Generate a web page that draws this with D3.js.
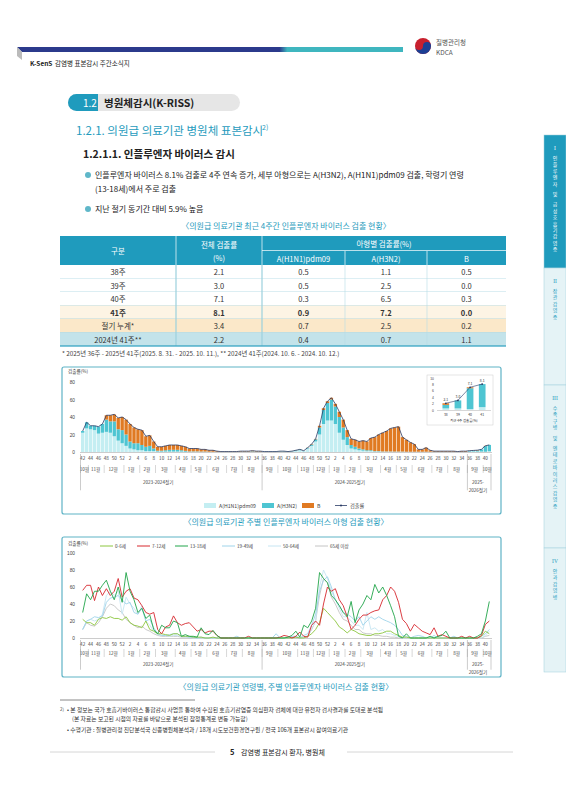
<!DOCTYPE html>
<html><head><meta charset="utf-8">
<script src="https://cdn.jsdelivr.net/npm/d3@7"></script>
<style>body{margin:0;background:#fff}svg{display:block;font-family:"Noto Sans CJK KR","Noto Sans",sans-serif}</style>
</head><body><svg id="pg" width="566" height="800"></svg>
<script>
// ---- data ----
var tableHead = ["구분", "전체 검출률", "A(H1N1)pdm09", "A(H3N2)", "B"];
var tableRows = [
  ["38주", "2.1", "0.5", "1.1", "0.5"],
  ["39주", "3.0", "0.5", "2.5", "0.0"],
  ["40주", "7.1", "0.3", "6.5", "0.3"],
  ["41주", "8.1", "0.9", "7.2", "0.0"],
  ["절기 누계*", "3.4", "0.7", "2.5", "0.2"],
  ["2024년 41주**", "2.2", "0.4", "0.7", "1.1"]
];
var seasons = ["2023-2024절기", "2024-2025절기", "2025-\n2026절기"];
var seasonWeeks = [
  [42,43,44,45,46,47,48,49,50,51,52,1,2,3,4,5,6,7,8,9,10,11,12,13,14,15,16,17,18,19,20,21,22,23,24,25,26,27,28,29,30,31,32,33,34,35],
  [36,37,38,39,40,41,42,43,44,45,46,47,48,49,50,51,52,1,2,3,4,5,6,7,8,9,10,11,12,13,14,15,16,17,18,19,20,21,22,23,24,25,26,27,28,29,30,31,32,33,34,35],
  [36,37,38,39,40,41]
];
var monthNames = [
  ["10월","11월","12월","1월","2월","3월","4월","5월","6월","7월","8월"],
  ["9월","10월","11월","12월","1월","2월","3월","4월","5월","6월","7월","8월"],
  ["9월","10월"]
];
var monthWeekCounts = [
  [2,4,5,4,4,5,4,4,5,4,5],
  [4,5,4,4,4,4,5,4,4,5,4,5],
  [4,2]
];
var h1n1 = [22,27,26,25,21,22,23,22,18,13,10,
  7,4,3,2,2,1,1,1,0.5,0.5,0.5,0.5,0.5,0.5,0.5,0.3,0.2,0.2,0.2,0.2,0.2,0.1,0.1,0.1,0.1,0.1,0.1,0.1,0.1,0.2,0.2,0.2,0.3,0.2,0.2,
  0.2,0.2,0.2,0.2,0.4,0.4,0.2,0.5,1,2,1,4,7,12,20,32,36,
  36,32,22,14,8,4,3,2,1.5,1,1,0.5,0.5,0.3,0.3,0.3,0.2,0.2,0.2,0.1,0.1,0.1,0.1,0.1,0.1,0.1,0.1,0.1,0.1,0.1,0.1,0.1,0.1,0.1,0.1,
  0.5,0.6,0.5,0.5,0.3,0.9];
var h3n2 = [2,7,4,5,8,10,14,13,17,13,15,
  13,8,7,8,6,5,6,3,1,1,1.5,2,2,2,1.5,1,0.5,0.5,0.5,0.3,0.3,0.2,0.2,0.2,0.1,0.1,0.1,0.1,0.1,0.3,0.3,0.3,0.5,0.3,0.3,
  0.2,0.2,0.2,0.2,0.4,0.4,0.2,0.4,0.8,0.8,0.4,0.8,1.5,2.5,8,16,20,
  24,20,18,14,9,4,3,2,1.5,1,1,0.5,0.5,0.3,0.3,0.3,0.3,0.3,0.3,0.2,0.2,0.2,0.2,0.2,0.2,0.2,0.2,0.2,0.2,0.2,0.2,0.2,0.1,0.2,0.2,
  0.8,1.0,1.1,2.5,6.5,7.2];
var fluB = [0,0,0,0,0,0,5,7,8,13,15,
  17,20,18,16,17,12,12,8,4.5,4.5,5,5.5,5.5,5.5,5,4.7,3.3,3.3,3.3,2.5,2.5,1.7,1.7,0.7,0.3,0.3,0.3,0.3,0.3,0.5,0.5,0.5,0.7,0.5,0.5,
  0.1,0.1,0.1,0.1,0.2,0.2,0.1,0.1,0.2,0.2,0.1,0.2,0.5,0.5,2,2,2,
  2,3,6,9,8,7,8,8,10,10,14,16,19,21.4,23.4,26.4,27.5,28.5,16.5,13.7,10.7,8.7,2.7,2.7,4.7,1.7,0.7,0.7,0.7,0.7,0.7,0.7,0.3,0.7,0.7,
  0.2,0.2,0.5,0,0.3,0];
var insetWeeks = ["38","39","40","41"];
var insetH1 = [0.5,0.5,0.3,0.9], insetH3 = [1.1,2.5,6.5,7.2], insetB = [0.5,0.0,0.3,0.0];
var insetTotal = [2.1,3.0,7.1,8.1];

var ageNames = ["0-6세","7-12세","13-18세","19-49세","50-64세","65세 이상"];
var ageColors = ["#8cc63e","#d7282f","#21a54a","#9fd4ea","#c6e5f2","#c4c4c4"];
var age0 = [22,18,18,15,22,24,23,25,23,23,21, 25,18,15,14,12,20,10,8,5,5,4,3,5,5,2,2,2,1,1,1,0,0,1,0,0,0,0,0,0,0,0,0,0,0,0,
  0,0,0,0,0,0,0,0,1,0,0,2,5,10,18,35,30, 25,20,13,10,6,10,8,5,4,3,3,5,5,6,8,8,5,3,1,1,0,0,0,0,0,0,0,0,0,0,0,0,0,0,0, 0,0,0,2,8,5];
var age7 = [56,62,62,44,60,50,58,50,55,70,48, 55,58,47,45,38,30,28,30,10,5,13,15,26,18,15,17,18,13,8,10,6,8,8,3,0,0,0,0,0,0,0,2,0,0,0,
  0,0,0,0,1,3,2,0,2,7,2,1,15,20,15,40,60, 55,58,45,38,25,10,15,22,27,27,30,32,33,45,50,60,55,42,22,17,8,16,12,8,6,4,12,2,4,2,0,0,0,2,0, 2,0,0,3,16,20];
var age13 = [30,52,45,55,55,62,68,55,45,60,42, 77,55,45,30,35,23,27,10,5,15,12,12,20,18,2,4,2,2,1,12,5,4,9,3,0,0,0,0,0,0,0,0,0,0,0,
  0,0,0,0,0,0,1,3,8,1,15,12,20,35,77,70,65, 50,45,38,30,25,43,18,33,40,50,45,63,53,60,50,38,25,2,0,5,0,0,0,0,0,2,0,2,3,8,0,0,0,0,0, 0,0,2,5,20,43];
var age19 = [10,20,22,25,24,26,42,47,48,50,45, 40,42,30,28,35,20,22,12,5,3,3,4,5,5,2,2,1,1,0,1,0,0,0,0,0,0,0,0,2,0,0,0,0,0,0,
  0,0,0,5,0,0,0,2,2,0,3,5,15,28,55,68,72, 60,45,38,30,28,25,20,25,15,20,25,22,25,22,20,18,15,10,3,2,0,2,3,2,0,0,3,0,0,0,0,2,0,0,0, 0,0,0,2,5,10];
var age50 = [10,20,22,20,22,28,50,55,50,55,28, 48,40,35,28,38,20,15,8,4,3,3,2,3,3,2,1,1,0,0,0,0,0,0,0,0,0,0,0,0,0,0,0,0,0,0,
  0,0,0,0,0,0,0,0,2,0,0,3,10,20,60,80,70, 55,45,35,25,25,20,15,15,10,30,10,12,8,10,5,5,3,2,0,0,0,0,0,0,0,0,0,0,0,0,0,0,0,0,0, 0,0,0,0,3,8];
var age65 = [10,18,15,14,18,25,35,40,38,33,30, 22,18,15,12,14,10,8,5,3,2,2,2,2,2,1,1,1,0,0,0,0,0,0,0,0,0,0,0,0,0,0,0,0,0,0,
  0,0,0,0,0,0,0,0,0,0,1,2,10,20,50,70,65, 48,40,30,22,20,15,10,10,6,5,5,3,3,2,2,1,1,0,0,0,0,0,0,0,0,0,0,0,0,0,0,0,0,0,0, 0,0,0,0,2,3];
var ageSeries = [age0, age7, age13, age19, age50, age65];

// ---- page ----
var svg = d3.select("#pg");
var TEAL = "#1f9bbd", DARK = "#222";
function txt(x, y, s, size, opt) {
  opt = opt || {};
  return svg.append("text").attr("x", x).attr("y", y).text(s)
    .attr("font-size", size).attr("fill", opt.fill || DARK)
    .attr("font-weight", opt.bold ? "bold" : null)
    .attr("text-anchor", opt.anchor || "start");
}

// header
var grad = svg.append("defs").append("linearGradient").attr("id", "hg");
grad.append("stop").attr("offset", "0%").attr("stop-color", "#2b3a8c");
grad.append("stop").attr("offset", "68%").attr("stop-color", "#2b3a8c");
grad.append("stop").attr("offset", "70%").attr("stop-color", "#3fb6bf");
grad.append("stop").attr("offset", "100%").attr("stop-color", "#3fb6bf");
svg.append("path").attr("d", "M17,47 L403,47 L403,52 L22,52 Z").attr("fill", "url(#hg)");
svg.append("path").attr("d", "M17,47 L22,52 L22,60 L17,56 Z").attr("fill", "#bbb");
txt(30, 66, "K-SenS", 6.5, {bold: true});
txt(55, 66, "감염병 표본감시 주간소식지", 6.5);
svg.append("circle").attr("cx", 423).attr("cy", 46).attr("r", 8).attr("fill", "#c8202e");
svg.append("path").attr("d", "M415,46 A8,8 0 0,0 431,46 A4,4 0 0,0 423,46 A4,4 0 0,1 415,46 Z").attr("fill", "#1c3f94");
txt(436, 45, "질병관리청", 6.5, {fill: "#555"});
txt(436, 55, "KDCA", 6.5, {fill: "#555"});

// section titles
svg.append("rect").attr("x", 68).attr("y", 94).attr("width", 172).attr("height", 17).attr("rx", 8.5).attr("fill", "#e6e6e6");
svg.append("path").attr("d", "M76.5,94 L98,94 L98,111 L76.5,111 A8.5,8.5 0 0,1 76.5,94 Z").attr("fill", TEAL);
txt(83, 106.5, "1.2", 10, {fill: "#fff"});
txt(104, 107, "병원체감시(K-RISS)", 10.5, {bold: true});
txt(76, 135, "1.2.1. 의원급 의료기관 병원체 표본감시", 11.5, {fill: TEAL});
txt(262, 130, "2)", 7, {fill: TEAL});
txt(83, 158, "1.2.1.1. 인플루엔자 바이러스 감시", 10.5, {bold: true});
[[178, "인플루엔자 바이러스 8.1% 검출로 4주 연속 증가, 세부 아형으로는 A(H3N2), A(H1N1)pdm09 검출, 학령기 연령"],
 [212, "지난 절기 동기간 대비 5.9% 높음"]].forEach(function(b) {
  svg.append("circle").attr("cx", 88).attr("cy", b[0] - 3).attr("r", 3).attr("fill", "#5fb7c9");
  txt(95, b[0], b[1], 8);
});
txt(95, 192, "(13-18세)에서 주로 검출", 8);

// right tabs
var tabs = [[135, 268, "I 인플루엔자 및 급성호흡기감염증", true], [268, 385, "II 장관감염증"], [385, 548, "III 수족구병 및 엔테로바이러스감염증"], [548, 672, "IV 안과감염병"]];
tabs.forEach(function(t) {
  svg.append("rect").attr("x", 544).attr("y", t[0]).attr("width", 22).attr("height", t[1] - t[0])
    .attr("fill", t[3] ? TEAL : "#e5f3f6").attr("stroke", "#9fcfdc").attr("stroke-width", 0.5);
  var parts = t[2].split(" ");
  var y = t[0] + 15;
  svg.append("text").attr("x", 555).attr("y", y).text(parts[0]).attr("font-size", 5.5)
    .attr("font-family", "Liberation Serif").attr("text-anchor", "middle").attr("fill", t[3] ? "#fff" : TEAL);
  y += 10;
  parts.slice(1).forEach(function(word) {
    Array.from(word).forEach(function(c) {
      svg.append("text").attr("x", 555).attr("y", y).text(c)
        .attr("font-size", 5).attr("text-anchor", "middle").attr("fill", t[3] ? "#fff" : TEAL);
      y += 6.4;
    });
    y += 4;
  });
});

// table
txt(286, 229, "〈의원급 의료기관 최근 4주간 인플루엔자 바이러스 검출 현황〉", 8, {fill: TEAL, anchor: "middle"});
var colX = [60, 176, 262, 345, 427, 506];
svg.append("rect").attr("x", 60).attr("y", 236).attr("width", 446).attr("height", 29).attr("fill", TEAL);
txt(118, 254, tableHead[0], 7.5, {fill: "#fff", anchor: "middle"});
txt(219, 248, tableHead[1], 7.5, {fill: "#fff", anchor: "middle"});
txt(219, 261, "(%)", 7.5, {fill: "#fff", anchor: "middle"});
txt(384, 247, "아형별 검출률(%)", 7.5, {fill: "#fff", anchor: "middle"});
[2, 3, 4].forEach(function(c) { txt((colX[c] + colX[c + 1]) / 2, 262, tableHead[c], 7.5, {fill: "#fff", anchor: "middle"}); });
svg.append("line").attr("x1", 262).attr("x2", 506).attr("y1", 250.5).attr("y2", 250.5).attr("stroke", "#fff").attr("stroke-width", 0.7);
[176, 262].forEach(function(x) { svg.append("line").attr("x1", x).attr("x2", x).attr("y1", 236).attr("y2", 265).attr("stroke", "#fff").attr("stroke-width", 0.7); });
[345, 427].forEach(function(x) { svg.append("line").attr("x1", x).attr("x2", x).attr("y1", 251).attr("y2", 265).attr("stroke", "#fff").attr("stroke-width", 0.7); });
var rowBg = ["#fff", "#fff", "#fff", "#fdf4e4", "#fbe8c9", "#c3e3ea"];
var rowH = 13.5;
tableRows.forEach(function(r, i) {
  var y = 265 + i * rowH;
  svg.append("rect").attr("x", 60).attr("y", y).attr("width", 446).attr("height", rowH).attr("fill", rowBg[i]);
  svg.append("line").attr("x1", 60).attr("x2", 506).attr("y1", y + rowH).attr("y2", y + rowH).attr("stroke", "#8cc8d8").attr("stroke-width", 0.6);
  r.forEach(function(v, c) {
    txt((colX[c] + colX[c + 1]) / 2, y + 10, v, 7.5, {anchor: "middle", bold: i === 3, fill: "#333"});
  });
});
[176, 262].forEach(function(x) { svg.append("line").attr("x1", x).attr("x2", x).attr("y1", 265).attr("y2", 346).attr("stroke", "#9cd0dd").attr("stroke-width", 1.2); });
[345, 427].forEach(function(x) { svg.append("line").attr("x1", x).attr("x2", x).attr("y1", 265).attr("y2", 346).attr("stroke", "#b5dce6").attr("stroke-width", 0.6); });
svg.append("line").attr("x1", 60).attr("x2", 506).attr("y1", 346).attr("y2", 346).attr("stroke", TEAL).attr("stroke-width", 1);
txt(62, 356, "* 2025년 36주 - 2025년 41주(2025. 8. 31. - 2025. 10. 11.), ** 2024년 41주(2024. 10. 6. - 2024. 10. 12.)", 6.3, {fill: "#444"});

// ---- shared x-axis builder ----
var allWeeks = [].concat.apply([], seasonWeeks);
var N = allWeeks.length;
function weekAxis(x, yTop, rowGap) {
  var g = svg.append("g").attr("font-size", 4.6).attr("fill", "#444");
  var bw = x.bandwidth();
  var seasonStart = 0;
  seasonWeeks.forEach(function(sw, s) {
    sw.forEach(function(w, j) {
      var i = seasonStart + j;
      if (w % 2 === 0) g.append("text").attr("x", x(i) + bw / 2).attr("y", yTop + 6).attr("text-anchor", "middle").text(w);
    });
    var m0 = seasonStart;
    monthNames[s].forEach(function(mn, k) {
      var n = monthWeekCounts[s][k];
      g.append("text").attr("x", x(m0) + n * bw / 2).attr("y", yTop + 6 + rowGap).attr("text-anchor", "middle").text(mn);
      g.append("line").attr("x1", x(m0) - 0.5).attr("x2", x(m0) - 0.5).attr("y1", yTop + rowGap).attr("y2", yTop + rowGap + 8).attr("stroke", "#999").attr("stroke-width", 0.4);
      m0 += n;
    });
    var lines = seasons[s].split("\n");
    lines.forEach(function(l, li) {
      g.append("text").attr("x", x(seasonStart) + sw.length * bw / 2).attr("y", yTop + 6 + rowGap * 2.2 + li * 8).attr("text-anchor", "middle").text(l);
    });
    g.append("line").attr("x1", x(seasonStart) - 0.5).attr("x2", x(seasonStart) - 0.5).attr("y1", yTop).attr("y2", yTop + rowGap * 3.3).attr("stroke", "#999").attr("stroke-width", 0.5);
    seasonStart += sw.length;
  });
  g.append("line").attr("x1", x.range()[1]).attr("x2", x.range()[1]).attr("y1", yTop).attr("y2", yTop + rowGap * 3.3).attr("stroke", "#999").attr("stroke-width", 0.5);
}

// ---- chart 1 ----
svg.append("rect").attr("x", 62).attr("y", 367).attr("width", 439).attr("height", 147).attr("rx", 2).attr("fill", "#fff").attr("stroke", "#5fb3c6").attr("stroke-width", 1.2);
var x1 = d3.scaleBand().domain(d3.range(N)).range([81, 491]).paddingInner(0.15);
var y1 = d3.scaleLinear().domain([0, 80]).range([452, 382]);
txt(68, 373, "검출률(%)", 4.6, {fill: "#444"});
var ya = svg.append("g").attr("transform", "translate(78,0)").call(d3.axisLeft(y1).tickValues([0, 20, 40, 60, 80]).tickSize(0).tickPadding(3));
ya.select(".domain").remove();
ya.selectAll("text").attr("font-size", 4.8).attr("fill", "#444");
var rows1 = allWeeks.map(function(w, i) { return {i: i, h1: h1n1[i], h3: h3n2[i], b: fluB[i]}; });
var stack = d3.stack().keys(["h1", "h3", "b"])(rows1);
var subColors = ["#c4eef2", "#4ec5d2", "#e07a22"];
stack.forEach(function(layer, k) {
  svg.append("g").selectAll("rect").data(layer).join("rect")
    .attr("x", function(d) { return x1(d.data.i); }).attr("width", x1.bandwidth())
    .attr("y", function(d) { return y1(d[1]); }).attr("height", function(d) { return y1(d[0]) - y1(d[1]); })
    .attr("fill", subColors[k]);
});
var tot = rows1.map(function(d) { return d.h1 + d.h3 + d.b; });
svg.append("path").datum(tot).attr("fill", "none").attr("stroke", "#2a3b66").attr("stroke-width", 0.8)
  .attr("d", d3.line().x(function(d, i) { return x1(i) + x1.bandwidth() / 2; }).y(function(d) { return y1(d); }));
svg.append("line").attr("x1", 80).attr("x2", 492).attr("y1", 452.5).attr("y2", 452.5).attr("stroke", "#999").attr("stroke-width", 0.5);
weekAxis(x1, 454, 11);
// legend 1
var leg1 = [["A(H1N1)pdm09", subColors[0]], ["A(H3N2)", subColors[1]], ["B", subColors[2]], ["검출률", null]];
var lx = [204, 262, 302, 335];
leg1.forEach(function(l, k) {
  if (l[1]) svg.append("rect").attr("x", lx[k]).attr("y", 503).attr("width", 12).attr("height", 5).attr("fill", l[1]);
  else { svg.append("line").attr("x1", lx[k]).attr("x2", lx[k] + 12).attr("y1", 505.5).attr("y2", 505.5).attr("stroke", "#2a3b66").attr("stroke-width", 0.8);
         svg.append("circle").attr("cx", lx[k] + 6).attr("cy", 505.5).attr("r", 1).attr("fill", "#2a3b66"); }
  txt(lx[k] + 15, 508, l[0], 5.2, {fill: "#444"});
});
// inset
svg.append("rect").attr("x", 427).attr("y", 375).attr("width", 66).attr("height", 50).attr("fill", "#fff").attr("stroke", "#ccc").attr("stroke-width", 0.5);
var xi = d3.scaleBand().domain(insetWeeks).range([437, 491]).padding(0.45);
var yi = d3.scaleLinear().domain([0, 10]).range([410, 378]);
var yia = svg.append("g").attr("transform", "translate(436,0)").call(d3.axisLeft(yi).tickValues([0, 2, 4, 6, 8, 10]).tickSize(0).tickPadding(2));
yia.select(".domain").remove(); yia.selectAll("text").attr("font-size", 3.4).attr("fill", "#444");
var insetRows = insetWeeks.map(function(w, i) { return {w: w, h1: insetH1[i], h3: insetH3[i], b: insetB[i]}; });
d3.stack().keys(["h1", "h3", "b"])(insetRows).forEach(function(layer, k) {
  svg.append("g").selectAll("rect").data(layer).join("rect")
    .attr("x", function(d) { return xi(d.data.w); }).attr("width", xi.bandwidth())
    .attr("y", function(d) { return yi(d[1]); }).attr("height", function(d) { return yi(d[0]) - yi(d[1]); })
    .attr("fill", subColors[k]);
});
svg.append("path").datum(insetTotal).attr("fill", "none").attr("stroke", "#2a3b66").attr("stroke-width", 0.6)
  .attr("d", d3.line().x(function(d, i) { return xi(insetWeeks[i]) + xi.bandwidth() / 2; }).y(function(d) { return yi(d); }));
insetTotal.forEach(function(v, i) {
  var cx = xi(insetWeeks[i]) + xi.bandwidth() / 2;
  svg.append("circle").attr("cx", cx).attr("cy", yi(v)).attr("r", 0.9).attr("fill", "#2a3b66");
  txt(cx, yi(v) - 2.5, v.toFixed(1), 3.4, {anchor: "middle", fill: "#333"});
  txt(cx, 416, insetWeeks[i], 3.4, {anchor: "middle", fill: "#333"});
});
svg.append("line").attr("x1", 437).attr("x2", 491).attr("y1", 410.5).attr("y2", 410.5).attr("stroke", "#999").attr("stroke-width", 0.4);
txt(464, 422, "최근 4주 검출률(%)", 3.4, {anchor: "middle", fill: "#333"});
txt(286, 525, "〈의원급 의료기관 주별 인플루엔자 바이러스 아형 검출 현황〉", 8, {fill: TEAL, anchor: "middle"});

// ---- chart 2 ----
svg.append("rect").attr("x", 62).attr("y", 537).attr("width", 439).attr("height", 140).attr("rx", 2).attr("fill", "#fff").attr("stroke", "#5fb3c6").attr("stroke-width", 1.2);
var x2 = d3.scaleBand().domain(d3.range(N)).range([81, 491]).paddingInner(0.15);
var y2 = d3.scaleLinear().domain([0, 100]).range([638, 553]);
txt(68, 545, "검출률(%)", 4.6, {fill: "#444"});
var yb = svg.append("g").attr("transform", "translate(78,0)").call(d3.axisLeft(y2).tickValues([0, 20, 40, 60, 80, 100]).tickSize(0).tickPadding(3));
yb.select(".domain").remove(); yb.selectAll("text").attr("font-size", 4.8).attr("fill", "#444");
svg.append("line").attr("x1", 80).attr("x2", 492).attr("y1", 638.5).attr("y2", 638.5).attr("stroke", "#999").attr("stroke-width", 0.5);
var drawOrder = [5, 4, 3, 0, 1, 2];
drawOrder.forEach(function(k) {
  svg.append("path").datum(ageSeries[k]).attr("fill", "none").attr("stroke", ageColors[k]).attr("stroke-width", 0.9)
    .attr("d", d3.line().x(function(d, i) { return x2(i) + x2.bandwidth() / 2; }).y(function(d) { return y2(d); }));
});
var lx2 = [100, 137, 175, 222, 268, 315];
ageNames.forEach(function(n, k) {
  svg.append("line").attr("x1", lx2[k]).attr("x2", lx2[k] + 13).attr("y1", 546).attr("y2", 546).attr("stroke", ageColors[k]).attr("stroke-width", 1);
  txt(lx2[k] + 15, 548, n, 4.6, {fill: "#444"});
});
weekAxis(x2, 640, 9);
txt(286, 690, "〈의원급 의료기관 연령별, 주별 인플루엔자 바이러스 검출 현황〉", 8, {fill: TEAL, anchor: "middle"});

// footnote & footer
svg.append("line").attr("x1", 60).attr("x2", 195).attr("y1", 700).attr("y2", 700).attr("stroke", "#888").attr("stroke-width", 1);
txt(60, 711, "2)", 4.5, {fill: "#444"});
txt(67, 712, "• 본 정보는 국가 호흡기바이러스 통합감시 사업을 통하여 수집된 호흡기감염증 의심환자 검체에 대한 유전자 검사결과를 토대로 분석됨", 5.8, {fill: "#333"});
txt(72, 721, "(본 자료는 보고된 시점의 자료를 바탕으로 분석된 잠정통계로 변동 가능함)", 5.8, {fill: "#333"});
txt(67, 732, "• 수행기관 : 질병관리청 진단분석국 신종병원체분석과 / 18개 시도보건환경연구원 / 전국 106개 표본감시 참여의료기관", 5.8, {fill: "#333"});
svg.append("line").attr("x1", 50).attr("x2", 215).attr("y1", 752).attr("y2", 752).attr("stroke", "#ccc").attr("stroke-width", 0.8);
svg.append("line").attr("x1", 347).attr("x2", 513).attr("y1", 752).attr("y2", 752).attr("stroke", "#ccc").attr("stroke-width", 0.8);
txt(230, 755, "5", 7.5, {bold: true});
txt(241, 755, "감염병 표본감시 환자, 병원체", 7);
</script></body></html>
